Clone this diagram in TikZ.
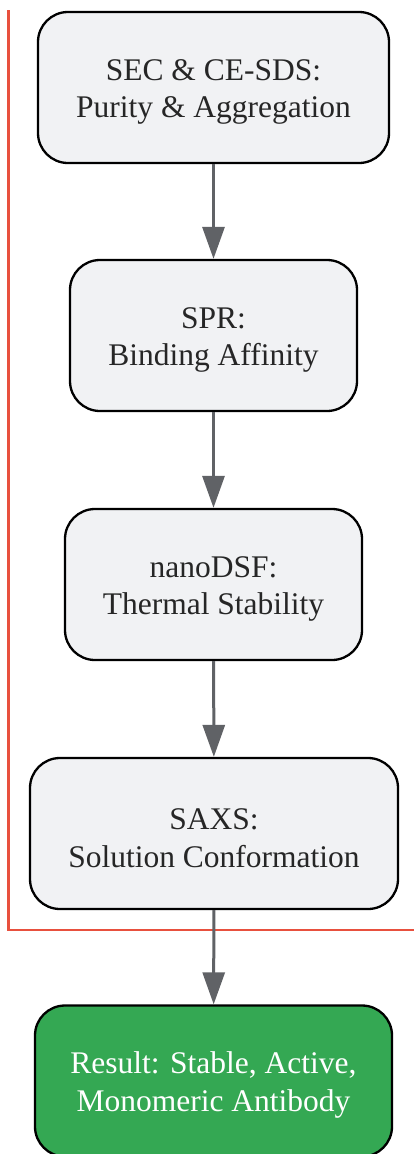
\documentclass[tikz,border=0pt]{standalone}
\usepackage{fontspec}
\setmainfont{Liberation Serif}
\usetikzlibrary{
    arrows.meta,
    positioning
}
\definecolor{boxfill}{HTML}{F1F2F4}
\definecolor{okgreen}{HTML}{34A853}
\definecolor{linkgray}{HTML}{606266}
\definecolor{groupred}{HTML}{E8503E}
\newcommand{\tallstrut}{\rule{0pt}{30pt}}

\begin{document}
\begin{tikzpicture}[x=1pt, y=-1pt,
    stage/.style={draw, line width=2.3pt, rounded corners=30pt, fill=boxfill,
        align=center, minimum height=151pt, text=black!85,
        font=\fontsize{31.5}{37.5}\selectfont},
    link/.style={draw=linkgray, line width=3pt,
        -{Triangle[width=22pt, length=32pt]}}]
                        \useasboundingbox (0, 0) rectangle (414, 1154);
                        \draw[groupred, line width=2.6pt] (8.5, 10) -- (8.5, 930) -- (416, 930);

                        \node[stage, minimum width=351pt] (sec) at (213.5, 87.5) {\tallstrut SEC \& CE-SDS:\\Purity \& Aggregation};
                        \node[stage, minimum width=287pt] (spr) at (213.5, 335.5) {\tallstrut SPR:\\Binding Affinity};
                        \node[stage, minimum width=297pt] (dsf) at (213.5, 584.5) {\tallstrut nanoDSF:\\Thermal Stability};
                        \node[stage, minimum width=368pt] (saxs) at (214, 833.5) {\tallstrut SAXS:\\Solution Conformation};
                        \node[stage, minimum width=357pt, fill=okgreen, text=white] (res) at (213.5, 1081) {\tallstrut Result: Stable, Active,\\Monomeric Antibody};

                        \draw
                        (sec) edge[link] (spr)
                        (spr) edge[link] (dsf)
                        (dsf) edge[link] (saxs)
                        (saxs) edge[link] (res);
                    \end{tikzpicture}
\end{document}
